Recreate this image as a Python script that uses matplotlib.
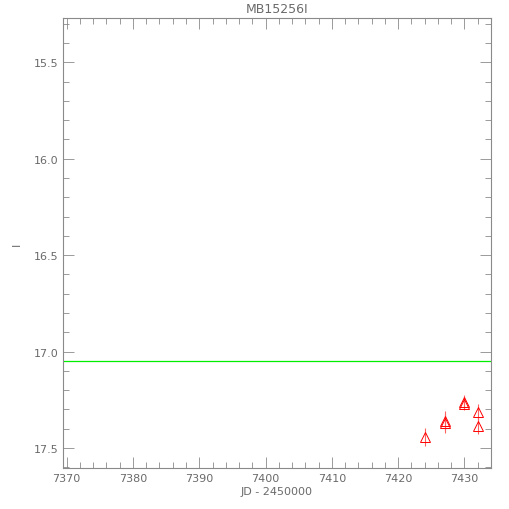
import matplotlib.pyplot as plt
from matplotlib.ticker import MultipleLocator

# dados
jd = [7424.0, 7427.0, 7427.0, 7430.0, 7430.0, 7432.0, 7432.0]
mag = [17.444, 17.358, 17.372, 17.262, 17.270, 17.314, 17.384]
err = [0.045, 0.05, 0.05, 0.035, 0.035, 0.04, 0.045]
base_mag = 17.047

cinza = "#8a8a8a"
texto = "#6a6a6a"

fig = plt.figure(figsize=(5.1, 5.1), dpi=100)
ax = fig.add_axes([63 / 510, 1 - 469 / 510, (491 - 63) / 510, (469 - 19) / 510])

ax.axhline(base_mag, color="#00ee00", lw=0.9)
ax.errorbar(jd, mag, yerr=err, fmt="none", ecolor="#ff6060", elinewidth=0.8)
ax.plot(jd, mag, ls="none", marker="^", mfc="none", mec="red", ms=7, mew=0.7)

ax.set_xlim(7369.45, 7434.0)
ax.set_ylim(17.604, 15.27)

ax.xaxis.set_major_locator(MultipleLocator(10))
ax.xaxis.set_minor_locator(MultipleLocator(2))
ax.yaxis.set_major_locator(MultipleLocator(0.5))
ax.yaxis.set_minor_locator(MultipleLocator(0.1))
ax.yaxis.set_major_formatter(plt.FormatStrFormatter("%.1f"))

ax.tick_params(which="both", direction="in", top=True, right=True,
               color=cinza, labelcolor=texto, labelsize=8)
ax.tick_params(which="major", length=8, width=0.6)
ax.tick_params(which="minor", length=4, width=0.6)
for s in ax.spines.values():
    s.set_color(cinza)
    s.set_linewidth(0.8)

ax.set_xlabel("JD - 2450000", color=texto, fontsize=8, labelpad=2)
ax.set_ylabel("I", color=texto, fontsize=8)
ax.yaxis.set_label_coords(-0.095, 0.5)
ax.set_title("MB15256I", color=texto, fontsize=9, pad=4)

plt.savefig("out.png", dpi=100)
plt.close()
